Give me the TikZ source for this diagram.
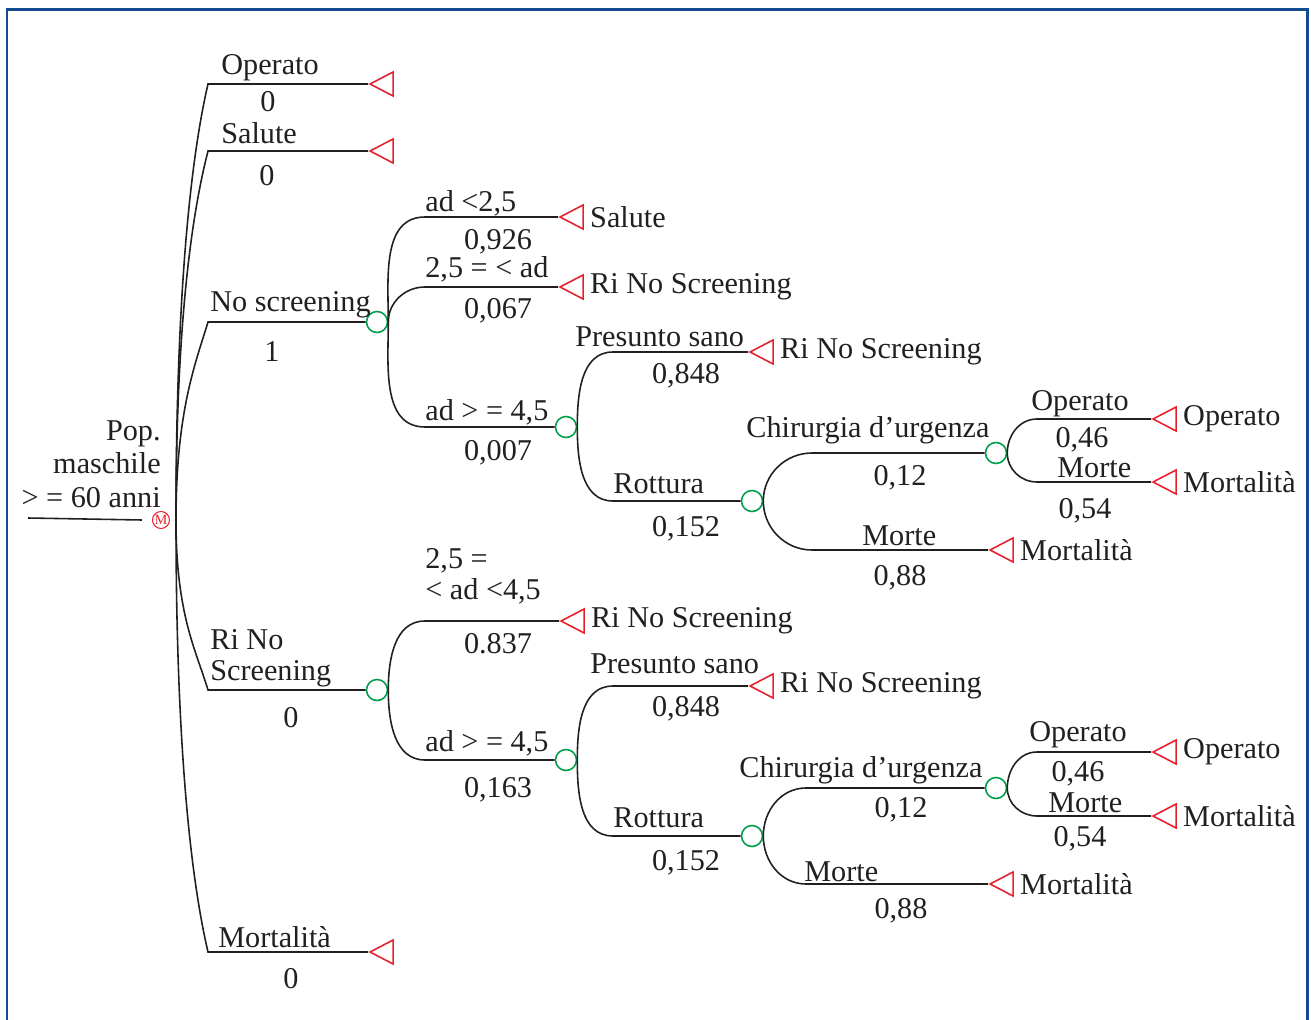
\documentclass[tikz,border=0pt]{standalone}
\usepackage{fontspec}
\setmainfont{Liberation Serif}
\usetikzlibrary{shapes.geometric,positioning}
\definecolor{frameblue}{RGB}{20,74,142}
\definecolor{termred}{RGB}{232,32,44}
\definecolor{chgreen}{RGB}{0,158,74}
\definecolor{ink}{RGB}{35,31,32}

\begin{document}
\begin{tikzpicture}[
    x=0.02cm, y=-0.02cm,
    font=\fontsize{17.2}{17.6}\selectfont,
    branch/.style={draw=ink, line width=0.9pt},
    chance/.style={
        circle, draw=chgreen, line width=0.9pt,
        minimum size=0.42cm, inner sep=0pt
    },
    term/.style={
        isosceles triangle, isosceles triangle stretches,
        shape border rotate=180, minimum width=0.48cm,
        minimum height=0.46cm, inner sep=0pt,
        draw=termred, line width=0.9pt, anchor=apex
    },
    markov/.style={
        circle, draw=termred, text=termred, line width=0.6pt,
        minimum size=0.34cm, inner sep=0pt,
        font=\fontsize{8}{8}\selectfont
    },
    lbl/.style={anchor=base west, inner sep=0pt, text=ink},
    prob/.style={anchor=base, inner sep=0pt, text=ink},
    outc/.style={anchor=west, inner sep=0pt, text=ink}
]
\useasboundingbox (0,0) rectangle (1311,1020);
\draw[frameblue, line width=1.7pt] (7,9.5) rectangle (1307,1060);

% root of the tree
\node[markov] (root) at (161,520) {M};
\coordinate (fork) at (176,520);
\coordinate (popend) at (28,518);
\draw[branch] (popend) -- ([xshift=-0.2cm]root.west);
\node[lbl, anchor=south east, align=right,
      font=\fontsize{17.2}{19}\selectfont] (pop) at (161,508)
    {Pop.\\maschile\\> = 60 anni};

% chance nodes
\foreach \n/\x/\y in {cNo/377/322, cRi/377/690, cNo3/566/427,
    cNo32/752/501, cNo321/996/453, cRi2/566/760, cRi22/752/836,
    cRi221/996/788}
    \node[chance] (\n) at (\x,\y) {};

% terminal nodes of the first level
\foreach \n/\y in {tOp/84, tSal/151, tMor/952}
    \node[term] (\n) at (368,\y) {};

% terminal nodes with their outcome
\foreach \n/\x/\y/\res [count=\i] in {
    tNo1/558/217/Salute,
    tNo2/558/287/Ri No Screening,
    tNo31/748/352/Ri No Screening,
    tNo322/988/550/Mortalità,
    tNo3211/1151/419/Operato,
    tNo3212/1151/482/Mortalità,
    tRi1/559/621/Ri No Screening,
    tRi21/748/686/Ri No Screening,
    tRi222/988/884/Mortalità,
    tRi2211/1151/752/Operato,
    tRi2212/1151/816/Mortalità
}{
    \node[term] (\n) at (\x,\y) {};
    \node[outc] (res\i) at ([xshift=0.12cm]\n.lower side) {\res};
}

% where each branch turns horizontal
\foreach \n/\x/\y in {sOp/208/84, sSal/208/151, sNo/208/322,
    sRi/208/690, sMor/208/952,
    sNo1/425/217, sNo2/425/287, sNo3/425/427,
    sNo31/613/352, sNo32/613/501, sNo321/812/453, sNo322/812/550,
    sNo3211/1037/419, sNo3212/1037/482,
    sRi1/425/621, sRi2/425/760, sRi21/613/686, sRi22/613/836,
    sRi221/806/788, sRi222/806/884, sRi2211/1037/752, sRi2212/1037/816}
    \coordinate (\n) at (\x,\y);

% branches out of the root
\foreach \s/\e/\a/\b/\c in {sOp/tOp/-250/-14/60, sSal/tSal/-210/-14/55,
    sNo/cNo/-110/-12/40, sRi/cRi/95/-12/-40, sMor/tMor/250/-14/-60}
    \draw[branch] (fork) .. controls +(0,\a) and +(\b,\c) .. (\s) -- (\e);

% branches out of the chance nodes
\foreach \p/\s/\e/\dir in {
    cNo/sNo1/tNo1/90, cNo/sNo2/tNo2/90, cNo/sNo3/cNo3/-90,
    cNo3/sNo31/tNo31/90, cNo3/sNo32/cNo32/-90,
    cNo32/sNo321/cNo321/90, cNo32/sNo322/tNo322/-90,
    cNo321/sNo3211/tNo3211/90, cNo321/sNo3212/tNo3212/-90,
    cRi/sRi1/tRi1/90, cRi/sRi2/cRi2/-90,
    cRi2/sRi21/tRi21/90, cRi2/sRi22/cRi22/-90,
    cRi22/sRi221/cRi221/90, cRi22/sRi222/tRi222/-90,
    cRi221/sRi2211/tRi2211/90, cRi221/sRi2212/tRi2212/-90
}
    \draw[branch] (\p.east) to[out=\dir,in=180] (\s) -- (\e);

% names above the branches
\foreach \x/\y/\t [count=\i] in {
    221/75/Operato, 221/144/Salute, 210/312/No screening,
    218/947/Mortalità,
    425/212/{ad <2,5}, 425/278/{2,5 = < ad}, 425/420/{ad > = 4,5},
    575/346/Presunto sano, 613/493/Rottura,
    746/437/Chirurgia d’urgenza, 862/545/Morte,
    1031/410/Operato, 1057/477/Morte,
    425/751/{ad > = 4,5}, 590/673/Presunto sano, 613/827/Rottura,
    739/777/Chirurgia d’urgenza, 804/881/Morte,
    1029/741/Operato, 1048/812/Morte
}
    \node[lbl] (lbl\i) at (\x,\y) {\t};
\node[lbl, anchor=south west, align=left] (lblRi) at (210,687)
    {Ri No\\Screening};
\node[lbl, anchor=south west, align=left] (lblMid) at (425,604)
    {2,5 =\\< ad <4,5};

% probabilities under the branches
\foreach \x/\y/\t [count=\i] in {
    268/112/0, 267/186/0, 272/361/1, 291/727/0, 291/988/0,
    498/250/{0,926}, 498/318/{0,067}, 498/460/{0,007},
    686/383/{0,848}, 686/536/{0,152}, 900/485/{0,12}, 900/585/{0,88},
    1082/447/{0,46}, 1085/518/{0,54},
    498/653/0.837, 498/797/{0,163}, 686/716/{0,848}, 686/870/{0,152},
    901/817/{0,12}, 901/918/{0,88}, 1078/781/{0,46}, 1080/846/{0,54}
}
    \node[prob] (p\i) at (\x,\y) {\t};
\end{tikzpicture}
\end{document}
